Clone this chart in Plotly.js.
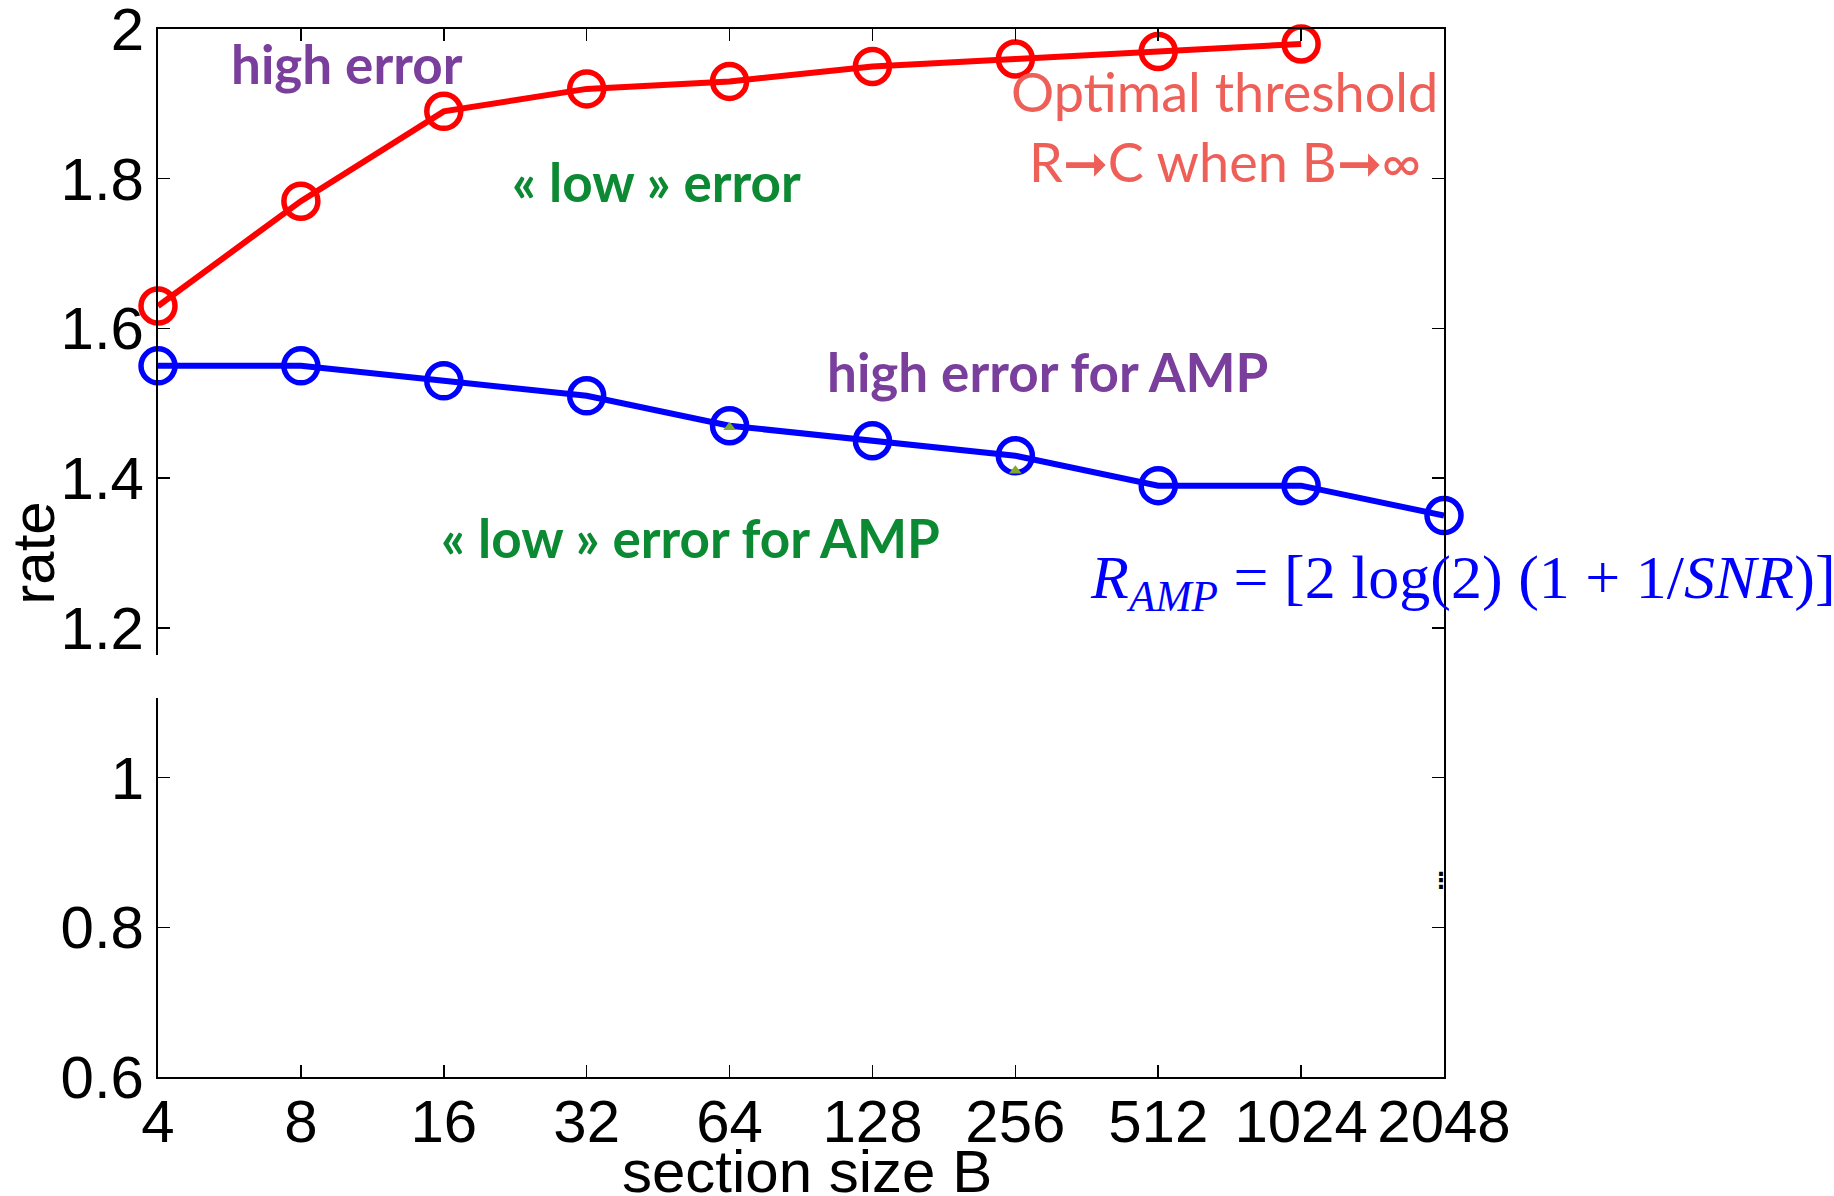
<!DOCTYPE html>
<html>
<head>
<meta charset="utf-8">
<script src="https://cdn.plot.ly/plotly-3.0.1.min.js"></script>
<style>html,body{margin:0;padding:0;background:#fff;}#chart{width:1834px;height:1196px;}</style>
</head>
<body>
<div id="chart"></div>
<script>
// Data
const sectionSizes = [4, 8, 16, 32, 64, 128, 256, 512, 1024, 2048];
const tickLabels = ["4", "8", "16", "32", "64", "128", "256", "512", "1024", "2048"];
const optimalX = [4, 8, 16, 32, 64, 128, 256, 512, 1024];
const optimalRate = [1.63, 1.77, 1.89, 1.92, 1.93, 1.95, 1.96, 1.97, 1.98];
const ampX = [4, 8, 16, 32, 64, 128, 256, 512, 1024, 2048];
const ampRate = [1.55, 1.55, 1.53, 1.51, 1.47, 1.45, 1.43, 1.39, 1.39, 1.35];
const triX = [64, 256];
const triRate = [1.468, 1.41];
const yTicks = [0.6, 0.8, 1, 1.2, 1.4, 1.6, 1.8, 2];
const yTickLabels = ["0.6", "0.8", "1", "1.2", "1.4", "1.6", "1.8", "2"];

// layout geometry (pixels)
const W = 1834, H = 1196;
const L = 158, R = 1444, T = 29, B = 1077;
const px = x => (x - L) / (R - L);
const py = y => (B - y) / (B - T);

const traces = [
  {
    x: optimalX, y: optimalRate, type: 'scatter', mode: 'lines+markers',
    line: {color: '#ff0000', width: 6},
    marker: {symbol: 'circle-open', size: 34, color: '#ff0000', line: {width: 5.5, color: '#ff0000'}},
    showlegend: false, cliponaxis: false
  },
  {
    x: ampX, y: ampRate, type: 'scatter', mode: 'lines+markers',
    line: {color: '#0000ff', width: 6},
    marker: {symbol: 'circle-open', size: 34, color: '#0000ff', line: {width: 5.5, color: '#0000ff'}},
    showlegend: false, cliponaxis: false
  },
  {
    x: triX, y: triRate, type: 'scatter', mode: 'markers',
    marker: {symbol: 'triangle-up', size: 11, color: '#7fa830'},
    showlegend: false, cliponaxis: false
  }
];

const bold = "Lato, 'Open Sans', sans-serif";
const purple = '#7a3f9d';
const green = '#0c8a33';
const salmon = '#ee5f58';
const sans = "'Liberation Sans', Arial, sans-serif";

const annotations = [
  {text: '<b>high error</b>', x: px(347), y: py(64), font: {family: bold, size: 53, color: purple}},
  {text: '<b>« low » error</b>', x: px(656), y: py(181), font: {family: bold, size: 53, color: green}},
  {text: 'Optimal threshold', x: px(1224), y: py(91), font: {family: bold, size: 54, color: salmon}},
  {text: 'R➞C when B➞∞', x: px(1225), y: py(161), font: {family: bold, size: 54, color: salmon}},
  {text: '<b>high error for AMP</b>', x: px(1047), y: py(371), font: {family: bold, size: 53, color: purple}},
  {text: '<b>« low » error for AMP</b>', x: px(690), y: py(537), font: {family: bold, size: 53, color: green}},
  {text: '<i>R</i><sub><i>AMP</i></sub> = [2 log(2) (1 + 1/<i>SNR</i>)]<sup>−1</sup>', x: px(1088), y: py(577), xanchor: 'left',
   font: {family: "'Liberation Serif', 'DejaVu Serif', serif", size: 62, color: '#0000ff'}},
  {text: '<b>⋮</b>', x: px(1441), y: py(880), font: {family: "'DejaVu Sans', sans-serif", size: 22, color: '#000'}},
  {text: 'section size B', x: px(807), y: py(1171), font: {family: sans, size: 60, color: '#000'}}
].map(a => Object.assign({xref: 'paper', yref: 'paper', showarrow: false, xanchor: 'center', yanchor: 'middle'}, a));

const layout = {
  width: W, height: H,
  margin: {l: L, r: W - R, t: T, b: H - B, pad: 0},
  paper_bgcolor: '#ffffff', plot_bgcolor: '#ffffff',
  font: {family: sans, color: '#000'},
  xaxis: {
    type: 'log',
    range: [Math.log10(4) - 1e-6, Math.log10(2048) + 1e-6],
    tickmode: 'array', tickvals: sectionSizes, ticktext: tickLabels, tickangle: 0,
    ticks: 'inside', ticklen: 12, tickwidth: 1.5, tickcolor: '#000',
    showline: true, linecolor: '#000', linewidth: 2, mirror: 'ticks',
    showgrid: false, zeroline: false, ticklabelstandoff: -9, ticklabeloverflow: 'allow',
    tickfont: {size: 60, family: sans}
  },
  yaxis: {
    range: [0.6 - 1e-6, 2 + 1e-6],
    tickmode: 'array', tickvals: yTicks, ticktext: yTickLabels,
    ticks: 'inside', ticklen: 12, tickwidth: 1.5, tickcolor: '#000',
    showline: true, linecolor: '#000', linewidth: 2, mirror: 'ticks',
    showgrid: false, zeroline: false, ticklabeloverflow: 'allow',
    tickfont: {size: 60, family: sans},
    title: {text: 'rate', font: {size: 60, family: sans}, standoff: 12}
  },
  shapes: [
    {type: 'rect', xref: 'paper', yref: 'paper', x0: px(148), x1: px(175), y0: py(698), y1: py(655),
     fillcolor: '#ffffff', line: {width: 0}, layer: 'above'}
  ],
  annotations: annotations
};

Plotly.newPlot('chart', traces, layout, {displayModeBar: false, staticPlot: true});
</script>
</body>
</html>
